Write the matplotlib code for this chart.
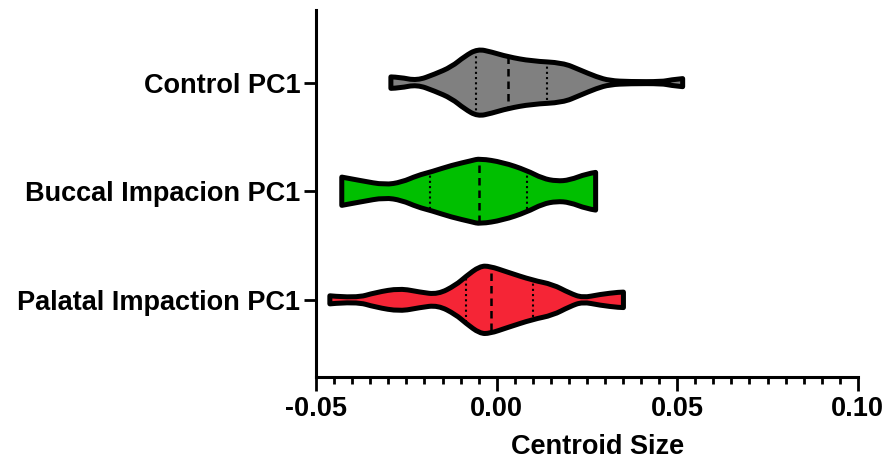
import numpy as np
import matplotlib
matplotlib.use('Agg')
import matplotlib.pyplot as plt
import matplotlib.patches as mpatches
from matplotlib.path import Path
from matplotlib.ticker import MultipleLocator

plt.rcParams['font.family'] = ['Liberation Sans', 'DejaVu Sans']
plt.rcParams['font.weight'] = 'bold'

# groups, top to bottom
groups = ['Control PC1', 'Buccal Impacion PC1', 'Palatal Impaction PC1']
colors = ['#808080', '#00BF00', '#F52536']

# violin profiles: value along the axis and relative density
control_x = [-0.0293, -0.0268, -0.0221, -0.0172, -0.0125, -0.0089, -0.0053, -0.0014, 0.0030,
             0.0097, 0.0183, 0.0230, 0.0277, 0.0313, 0.0368, 0.0459, 0.0479, 0.0515]
control_d = [0.17, 0.16, 0.06, 0.25, 0.47, 0.78, 1.0, 0.91, 0.77,
             0.64, 0.59, 0.38, 0.17, 0.06, 0.03, 0.03, 0.08, 0.12]

buccal_x = [-0.0429, -0.0374, -0.0310, -0.0263, -0.0219, -0.0180, -0.0125, -0.0069,
            -0.0047, 0.0017, 0.0083, 0.0127, 0.0166, 0.0202, 0.0249, 0.0274]
buccal_d = [0.42, 0.31, 0.19, 0.27, 0.47, 0.58, 0.77, 0.91,
            0.97, 0.86, 0.62, 0.38, 0.30, 0.33, 0.52, 0.56]

palatal_x = [-0.0462, -0.0390, -0.0335, -0.0268, -0.0213, -0.0163, -0.0113, -0.0086, -0.0047,
             -0.0019, 0.0028, 0.0100, 0.0155, 0.0202, 0.0238, 0.0285, 0.0340, 0.0351]
palatal_d = [0.12, 0.05, 0.22, 0.34, 0.23, 0.16, 0.44, 0.69, 1.0,
             1.0, 0.83, 0.58, 0.46, 0.20, 0.06, 0.16, 0.23, 0.23]

# quartiles and medians
q1 = [-0.0058, -0.0185, -0.0086]
medians = [0.0030, -0.0050, -0.0017]
q3 = [0.0138, 0.0083, 0.0100]

profiles = [(control_x, control_d), (buccal_x, buccal_d), (palatal_x, palatal_d)]
max_half = 0.31


def spline_part(pts, first_code):
    # quadratic B-spline through the control points
    verts = [pts[0]]
    codes = [first_code]
    n = len(pts)
    for i in range(1, n - 1):
        if i < n - 2:
            mid = ((pts[i][0] + pts[i + 1][0]) / 2, (pts[i][1] + pts[i + 1][1]) / 2)
        else:
            mid = pts[i + 1]
        verts += [pts[i], mid]
        codes += [Path.CURVE3, Path.CURVE3]
    return verts, codes


def violin_path(xs, ds, c):
    top = [(x, c + d * max_half) for x, d in zip(xs, ds)]
    bot = [(x, c - d * max_half) for x, d in zip(xs, ds)][::-1]
    v1, c1 = spline_part(top, Path.MOVETO)
    v2, c2 = spline_part(bot, Path.LINETO)
    verts = v1 + v2 + [top[0]]
    codes = c1 + c2 + [Path.CLOSEPOLY]
    return Path(verts, codes)


fig = plt.figure(figsize=(8.88, 4.70), dpi=100)
ax = fig.add_axes([0.356, 0.198, 0.61, 0.781])

ypos = [2, 1, 0]
for i in range(3):
    xs, ds = profiles[i]
    c = ypos[i]
    patch = mpatches.PathPatch(violin_path(xs, ds, c), facecolor=colors[i],
                               edgecolor='black', lw=3.6, joinstyle='round', zorder=2)
    ax.add_patch(patch)
    ln, = ax.plot([medians[i], medians[i]], [c - 0.4, c + 0.4], color='black',
                  lw=1.8, ls=(0, (3, 2)), zorder=3)
    ln.set_clip_path(patch)
    for q in (q1[i], q3[i]):
        ln, = ax.plot([q, q], [c - 0.4, c + 0.4], color='black',
                      lw=1.5, ls=(0, (1, 1.5)), zorder=3)
        ln.set_clip_path(patch)

ax.set_xlim(-0.05, 0.10)
ax.set_ylim(-0.71, 2.67)
ax.set_yticks(ypos)
ax.set_yticklabels(groups, fontsize=19.5, fontweight='bold')
ax.xaxis.set_minor_locator(MultipleLocator(0.005))
ax.set_xticks([-0.05, 0.0, 0.05, 0.10])
ax.set_xticklabels(['-0.05', '0.00', '0.05', '0.10'], fontsize=19.5, fontweight='bold')
ax.set_xlabel('Centroid Size', fontsize=19.5, fontweight='bold')
ax.xaxis.set_label_coords(0.52, -0.155)

for s in ['top', 'right']:
    ax.spines[s].set_visible(False)
for s in ['left', 'bottom']:
    ax.spines[s].set_linewidth(2.2)
ax.tick_params(axis='x', which='major', length=10, width=2, pad=4)
ax.tick_params(axis='x', which='minor', length=5, width=2)
ax.tick_params(axis='y', which='major', length=8.5, width=2, pad=3)

fig.savefig('out.png', dpi=100)
